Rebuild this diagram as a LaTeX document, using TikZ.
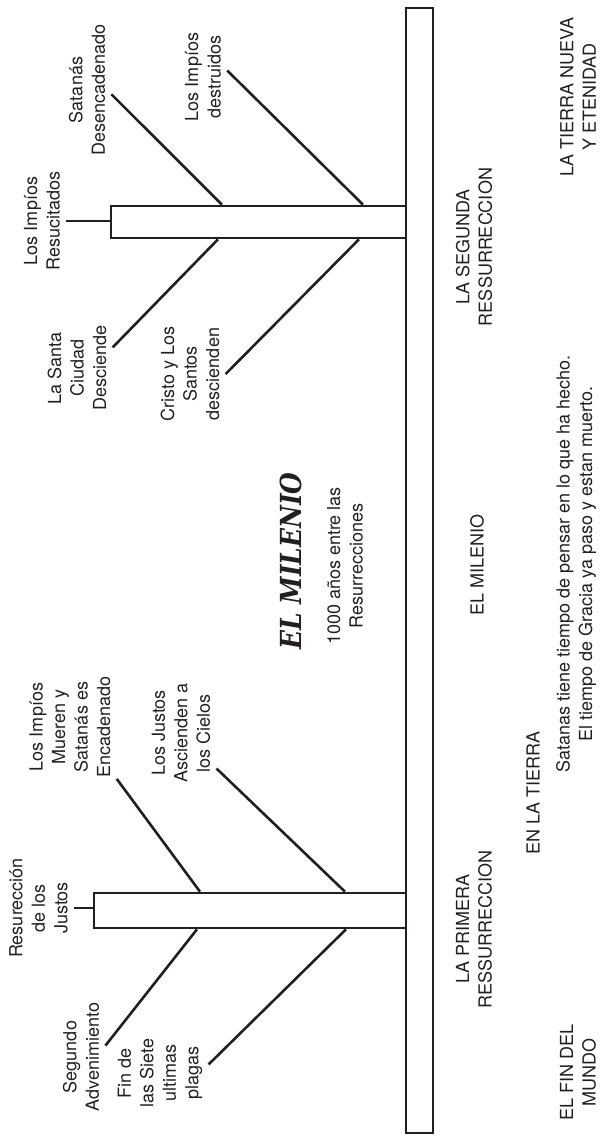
\documentclass[tikz,border=0pt]{standalone}
\usepackage{fontspec}
\setmainfont{TeX Gyre Heros}
\newfontfamily\titlefont[FakeStretch=0.86]{DejaVu Serif}
\usetikzlibrary{%
    calc,
    positioning
}
\definecolor{ink}{RGB}{35,31,32}
\tikzset{%
    event/.style={rotate=90, align=center, inner sep=5pt,
                  font=\fontsize{18}{22.5}\selectfont},
    heading/.style={event,
                  font=\titlefont\bfseries\itshape\fontsize{29}{34}\selectfont}
}

\begin{document}
\begin{tikzpicture}[x=1pt, y=-1pt, color=ink, line width=2.6pt]
    \useasboundingbox (0,0) rectangle (601,1137);

    \node (bar)    [draw, minimum width=27pt,  minimum height=1125pt] at (419.5,570.5) {};
    \node (impbox) [draw, minimum width=295pt, minimum height=32pt]   at (258.5,222) {};
    \node (jusbox) [draw, minimum width=312pt, minimum height=35pt]   at (250,910.5) {};

    \node (impres) [event] at (42,221)    {Los Impíos\\Resucitados};
    \node (desenc) [event] at (87,90)     {Satanás\\Desencadenado};
    \node (destru) [event] at (203,77)    {Los Impíos\\destruidos};
    \node (ciudad) [event] at (77,368)    {La Santa\\Ciudad\\Desciende};
    \node (santos) [event] at (190,374)   {Cristo y Los\\Santos\\descienden};
    \node (justos) [event] at (38.5,908)  {Resurección\\de los\\Justos};
    \node (encad)  [event] at (70,727)    {Los Impíos\\Mueren y\\Satanás es\\Encadenado};
    \node (cielos) [event] at (181,733)   {Los Justos\\Ascienden a\\los Cielos};
    \node (advent) [event] at (81,1057)   {Segundo\\Advenimiento};
    \node (plagas) [event] at (160,1073)  {Fin de\\las Siete\\ultimas\\plagas};

    \node (title)  [heading] at (291,561) {EL MILENIO};
    \node (years)  [event] at (345,566)   {1000 años entre las\\Resurrecciones};

    \node (second)  [event] at (474,247)  {LA SEGUNDA\\RESSURRECCION};
    \node (milenio) [event] at (477,565)  {EL MILENIO};
    \node (first)   [event] at (474,929)  {LA PRIMERA\\RESSURRECCION};
    \node (tierra)  [event] at (533,793)  {EN LA TIERRA};
    \node (nueva)   [event] at (578,97)   {LA TIERRA NUEVA\\Y ETENIDAD};
    \node (gracia)  [event] at (576,564)  {Satanas tiene tiempo de pensar en lo que ha hecho.\\El tiempo de Gracia ya paso y estan muerto.};
    \node (fin)     [event] at (578,1072) {EL FIN DEL\\MUNDO};

    \draw (impres.south) -- (impres.south -| impbox.west);
    \draw (justos.south) -- (justos.south -| jusbox.west);

    \foreach \Source/\Xpos/\Edge in {%
        desenc.-100/222/impbox.north,
        destru.-75/363/impbox.north,
        ciudad.-60/218/impbox.south,
        santos.south/359/impbox.south,
        encad.-138/200/jusbox.north,
        cielos.-135/345/jusbox.north,
        advent.-65/197/jusbox.south,
        plagas.-80/346/jusbox.south%
    }
    \draw (\Source) -- (\Xpos,0 |- \Edge);
\end{tikzpicture}
\end{document}
